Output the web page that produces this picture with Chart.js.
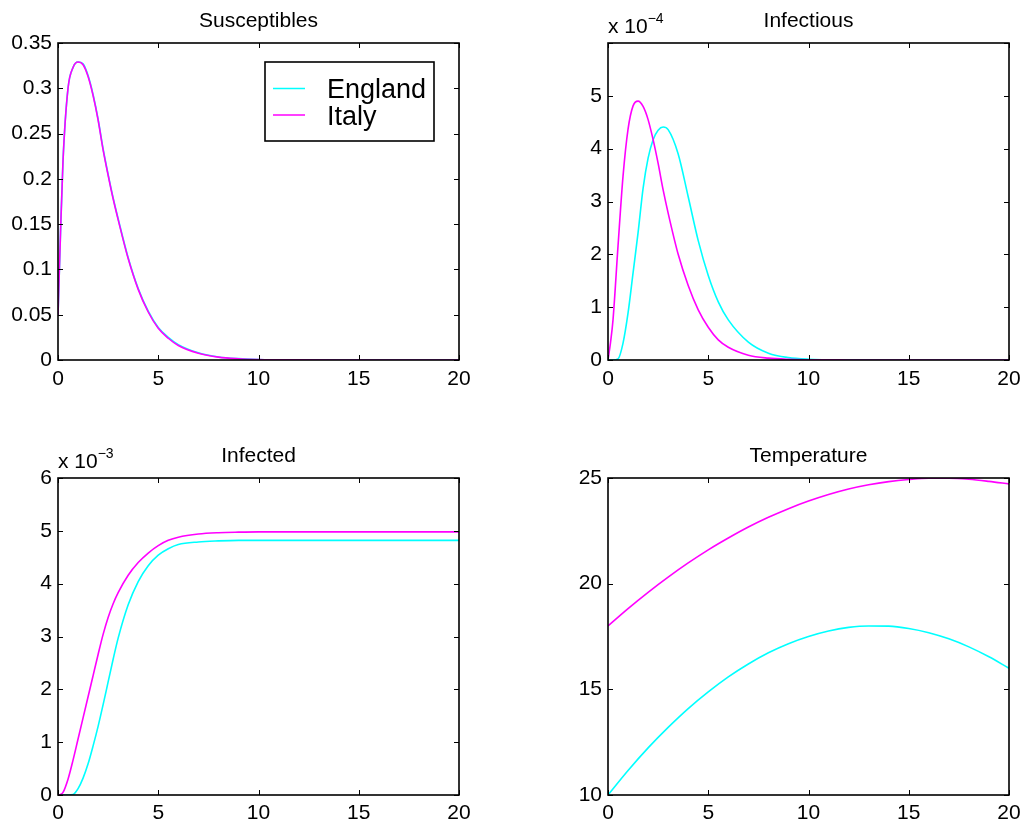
<!DOCTYPE html>
<html>
<head>
<meta charset="utf-8">
<title>England vs Italy - epidemic model</title>
<script src="https://cdn.jsdelivr.net/npm/chart.js@4.4.1/dist/chart.umd.min.js"></script>
<style>
  html, body { margin: 0; padding: 0; background: #fff; }
  #grid { position: relative; width: 1029px; height: 828px; background: #fff; }
  .panel { position: absolute; height: 414px; }
  .left { left: 0; width: 515px; }
  .right { left: 515px; width: 514px; }
  .top { top: 0; }
  .bottom { top: 414px; }
</style>
</head>
<body>
<div id="grid">
  <div class="panel left top"><canvas id="susChart"></canvas></div>
  <div class="panel right top"><canvas id="infChart"></canvas></div>
  <div class="panel left bottom"><canvas id="cumChart"></canvas></div>
  <div class="panel right bottom"><canvas id="tempChart"></canvas></div>
</div>
<script>
// ---- data ----
const countries = ["England", "Italy"];
const lineColors = ["#00ffff", "#ff00ff"];

// time grid (days) for the epidemic curves
const tEpi = [0, 0.125, 0.25, 0.5, 0.75, 1, 1.25, 1.5, 1.75, 2, 2.25, 2.5, 2.75, 3, 3.5,
  4, 4.5, 5, 5.5, 6, 7, 8, 9, 10, 12, 14, 16, 18, 20];

const susEngland = [0.049, 0.14, 0.22, 0.30, 0.323, 0.329, 0.327, 0.314, 0.293, 0.266,
  0.233, 0.205, 0.179, 0.156, 0.113, 0.079, 0.054, 0.036, 0.025, 0.017, 0.008, 0.0034,
  0.0015, 0.0006, 0.0001, 0, 0, 0, 0];
const susItaly = [0.049, 0.14, 0.22, 0.30, 0.323, 0.329, 0.326, 0.313, 0.292, 0.265,
  0.232, 0.204, 0.178, 0.155, 0.112, 0.078, 0.053, 0.035, 0.024, 0.016, 0.0075, 0.0032,
  0.0014, 0.0006, 0.0001, 0, 0, 0, 0];

const infEngland = [0, 0, 0, 0.02e-4, 0.32e-4, 0.89e-4, 1.65e-4, 2.41e-4, 3.25e-4, 3.82e-4,
  4.17e-4, 4.35e-4, 4.41e-4, 4.36e-4, 3.90e-4, 3.09e-4, 2.26e-4, 1.60e-4, 1.10e-4, 0.76e-4,
  0.34e-4, 0.13e-4, 0.045e-4, 0.015e-4, 0.002e-4, 0, 0, 0, 0];
const infItaly = [0, 0.33e-4, 0.76e-4, 2.16e-4, 3.48e-4, 4.37e-4, 4.81e-4, 4.90e-4, 4.80e-4,
  4.55e-4, 4.17e-4, 3.72e-4, 3.22e-4, 2.78e-4, 2.00e-4, 1.41e-4, 0.95e-4, 0.62e-4, 0.38e-4,
  0.24e-4, 0.09e-4, 0.035e-4, 0.013e-4, 0.005e-4, 0.001e-4, 0, 0, 0, 0];

const cumEngland = [0, 0, 0, 0, 0.01e-3, 0.12e-3, 0.32e-3, 0.59e-3, 0.93e-3, 1.30e-3,
  1.71e-3, 2.14e-3, 2.57e-3, 2.97e-3, 3.60e-3, 4.04e-3, 4.34e-3, 4.54e-3, 4.66e-3, 4.74e-3,
  4.79e-3, 4.81e-3, 4.82e-3, 4.82e-3, 4.82e-3, 4.82e-3, 4.82e-3, 4.82e-3, 4.82e-3];
const cumItaly = [0, 0.01e-3, 0.05e-3, 0.30e-3, 0.66e-3, 1.06e-3, 1.46e-3, 1.86e-3, 2.26e-3,
  2.66e-3, 3.04e-3, 3.36e-3, 3.62e-3, 3.83e-3, 4.16e-3, 4.40e-3, 4.58e-3, 4.72e-3, 4.82e-3,
  4.88e-3, 4.94e-3, 4.965e-3, 4.975e-3, 4.98e-3, 4.98e-3, 4.98e-3, 4.98e-3, 4.98e-3, 4.98e-3];

// daily temperature
const tTemp = [0, 1, 2, 3, 4, 5, 6, 7, 8, 9, 10, 11, 12, 13, 14, 15, 16, 17, 18, 19, 20];
const tempEngland = [10.0, 11.16, 12.23, 13.2, 14.09, 14.88, 15.59, 16.2, 16.73, 17.16, 17.5,
  17.76, 17.93, 18.0, 17.99, 17.88, 17.68, 17.39, 17.01, 16.54, 16.0];
const tempItaly = [18.0, 18.82, 19.59, 20.31, 20.98, 21.6, 22.16, 22.68, 23.14, 23.55, 23.91,
  24.22, 24.48, 24.68, 24.83, 24.93, 24.99, 24.99, 24.94, 24.84, 24.72];

const xTicks = [0, 5, 10, 15, 20];

// ---- look ----
const FONT = '"Liberation Sans", Arial, Helvetica, sans-serif';
Chart.defaults.font.family = FONT;
Chart.defaults.font.size = 21;
Chart.defaults.color = "#000";

// closed axes box with short inward ticks on every side
const boxTicks = {
  id: "boxTicks",
  afterDraw(chart) {
    const { ctx, chartArea: a } = chart;
    const sx = chart.scales.x, sy = chart.scales.y;
    const len = 5;
    ctx.save();
    ctx.strokeStyle = "#000";
    ctx.lineWidth = 1;
    ctx.beginPath();
    sx.ticks.forEach(t => {
      const px = Math.round(sx.getPixelForValue(t.value)) + 0.5;
      ctx.moveTo(px, a.bottom); ctx.lineTo(px, a.bottom - len);
      ctx.moveTo(px, a.top); ctx.lineTo(px, a.top + len);
    });
    sy.ticks.forEach(t => {
      const py = Math.round(sy.getPixelForValue(t.value)) + 0.5;
      ctx.moveTo(a.left, py); ctx.lineTo(a.left + len, py);
      ctx.moveTo(a.right, py); ctx.lineTo(a.right - len, py);
    });
    ctx.stroke();
    ctx.lineWidth = 1.6;
    ctx.strokeRect(a.left, a.top, a.right - a.left, a.bottom - a.top);
    ctx.restore();
  }
};

// panel title and the "x 10^n" multiplier above the y axis
const panelText = {
  id: "panelText",
  afterDraw(chart, args, opts) {
    const { ctx, chartArea: a } = chart;
    ctx.save();
    ctx.fillStyle = "#000";
    ctx.textBaseline = "alphabetic";
    ctx.font = "21px " + FONT;
    ctx.textAlign = "center";
    ctx.fillText(opts.title, (a.left + a.right) / 2, a.top - 16.5);
    if (opts.exponent) {
      ctx.textAlign = "left";
      const base = "x 10";
      ctx.fillText(base, a.left, a.top - 10);
      const w = ctx.measureText(base).width;
      ctx.font = "14px " + FONT;
      ctx.fillText("\u2212" + opts.exponent, a.left + w, a.top - 20.5);
    }
    ctx.restore();
  }
};

// boxed legend drawn inside the plot area
const lineLegend = {
  id: "lineLegend",
  afterDraw(chart) {
    const { ctx, chartArea: a } = chart;
    const x0 = a.left + 207, y0 = a.top + 19;
    const x1 = a.right - 25, y1 = a.top + 98;
    ctx.save();
    ctx.fillStyle = "#fff";
    ctx.fillRect(x0, y0, x1 - x0, y1 - y0);
    ctx.strokeStyle = "#000";
    ctx.lineWidth = 1.6;
    ctx.strokeRect(x0, y0, x1 - x0, y1 - y0);
    ctx.font = "27px " + FONT;
    ctx.textAlign = "left";
    ctx.textBaseline = "alphabetic";
    chart.data.datasets.forEach((ds, i) => {
      const y = y0 + 26.5 + i * 26.5;
      ctx.strokeStyle = ds.borderColor;
      ctx.lineWidth = 1.5;
      ctx.beginPath();
      ctx.moveTo(x0 + 8, y); ctx.lineTo(x0 + 40, y);
      ctx.stroke();
      ctx.fillStyle = "#000";
      ctx.fillText(ds.label, x0 + 62, y + 9.5);
    });
    ctx.restore();
  }
};

function series(xs, ys, scale) {
  return xs.map((x, i) => ({ x: x, y: ys[i] / scale }));
}

// area = plot box inside the canvas: left, top, right, bottom
function makePanel(id, xs, values, y, text, area, extra) {
  const canvas = document.getElementById(id);
  const W = canvas.parentNode.clientWidth, H = canvas.parentNode.clientHeight;
  const scale = y.scale || 1;
  return new Chart(canvas, {
    type: "line",
    data: {
      datasets: values.map((ys, i) => ({
        label: countries[i],
        data: series(xs, ys, scale),
        borderColor: lineColors[i],
        borderWidth: 1.6,
        pointRadius: 0,
        cubicInterpolationMode: "monotone",
        order: values.length - i
      }))
    },
    options: {
      responsive: true,
      maintainAspectRatio: false,
      animation: false,
      events: [],
      layout: { padding: { left: 0, top: area[1], right: W - area[2], bottom: 0 } },
      plugins: {
        legend: { display: false },
        tooltip: { enabled: false },
        panelText: text
      },
      scales: {
        x: {
          type: "linear",
          min: 0, max: 20,
          afterBuildTicks: s => { s.ticks = xTicks.map(v => ({ value: v })); },
          ticks: { padding: area[3] > 370 ? 6 : 7, maxRotation: 0 },
          grid: { display: false, drawTicks: false },
          border: { display: false },
          afterFit: s => { s.height = H - area[3]; }
        },
        y: {
          min: y.min, max: y.max,
          afterBuildTicks: s => { s.ticks = y.ticks.map(v => ({ value: v })); },
          ticks: { padding: 6, callback: y.label },
          grid: { display: false, drawTicks: false },
          border: { display: false },
          afterFit: s => { s.width = area[0]; }
        }
      }
    },
    plugins: [boxTicks, panelText].concat(extra || [])
  });
}

makePanel("susChart", tEpi, [susEngland, susItaly],
  { min: 0, max: 0.35, ticks: [0, 0.05, 0.1, 0.15, 0.2, 0.25, 0.3, 0.35],
    label: v => String(Math.round(v * 100) / 100) },
  { title: "Susceptibles" }, [58, 43, 459, 360], [lineLegend]);

makePanel("infChart", tEpi, [infEngland, infItaly],
  { min: 0, max: 6, scale: 1e-4, ticks: [0, 1, 2, 3, 4, 5, 6],
    label: v => (v === 6 ? "" : String(v)) },
  { title: "Infectious", exponent: "4" }, [93, 43, 494, 360]);

makePanel("cumChart", tEpi, [cumEngland, cumItaly],
  { min: 0, max: 6, scale: 1e-3, ticks: [0, 1, 2, 3, 4, 5, 6], label: v => String(v) },
  { title: "Infected", exponent: "3" }, [58, 64, 459, 381]);

makePanel("tempChart", tTemp, [tempEngland, tempItaly],
  { min: 10, max: 25, ticks: [10, 15, 20, 25], label: v => String(v) },
  { title: "Temperature" }, [93, 64, 494, 381]);
</script>
</body>
</html>
